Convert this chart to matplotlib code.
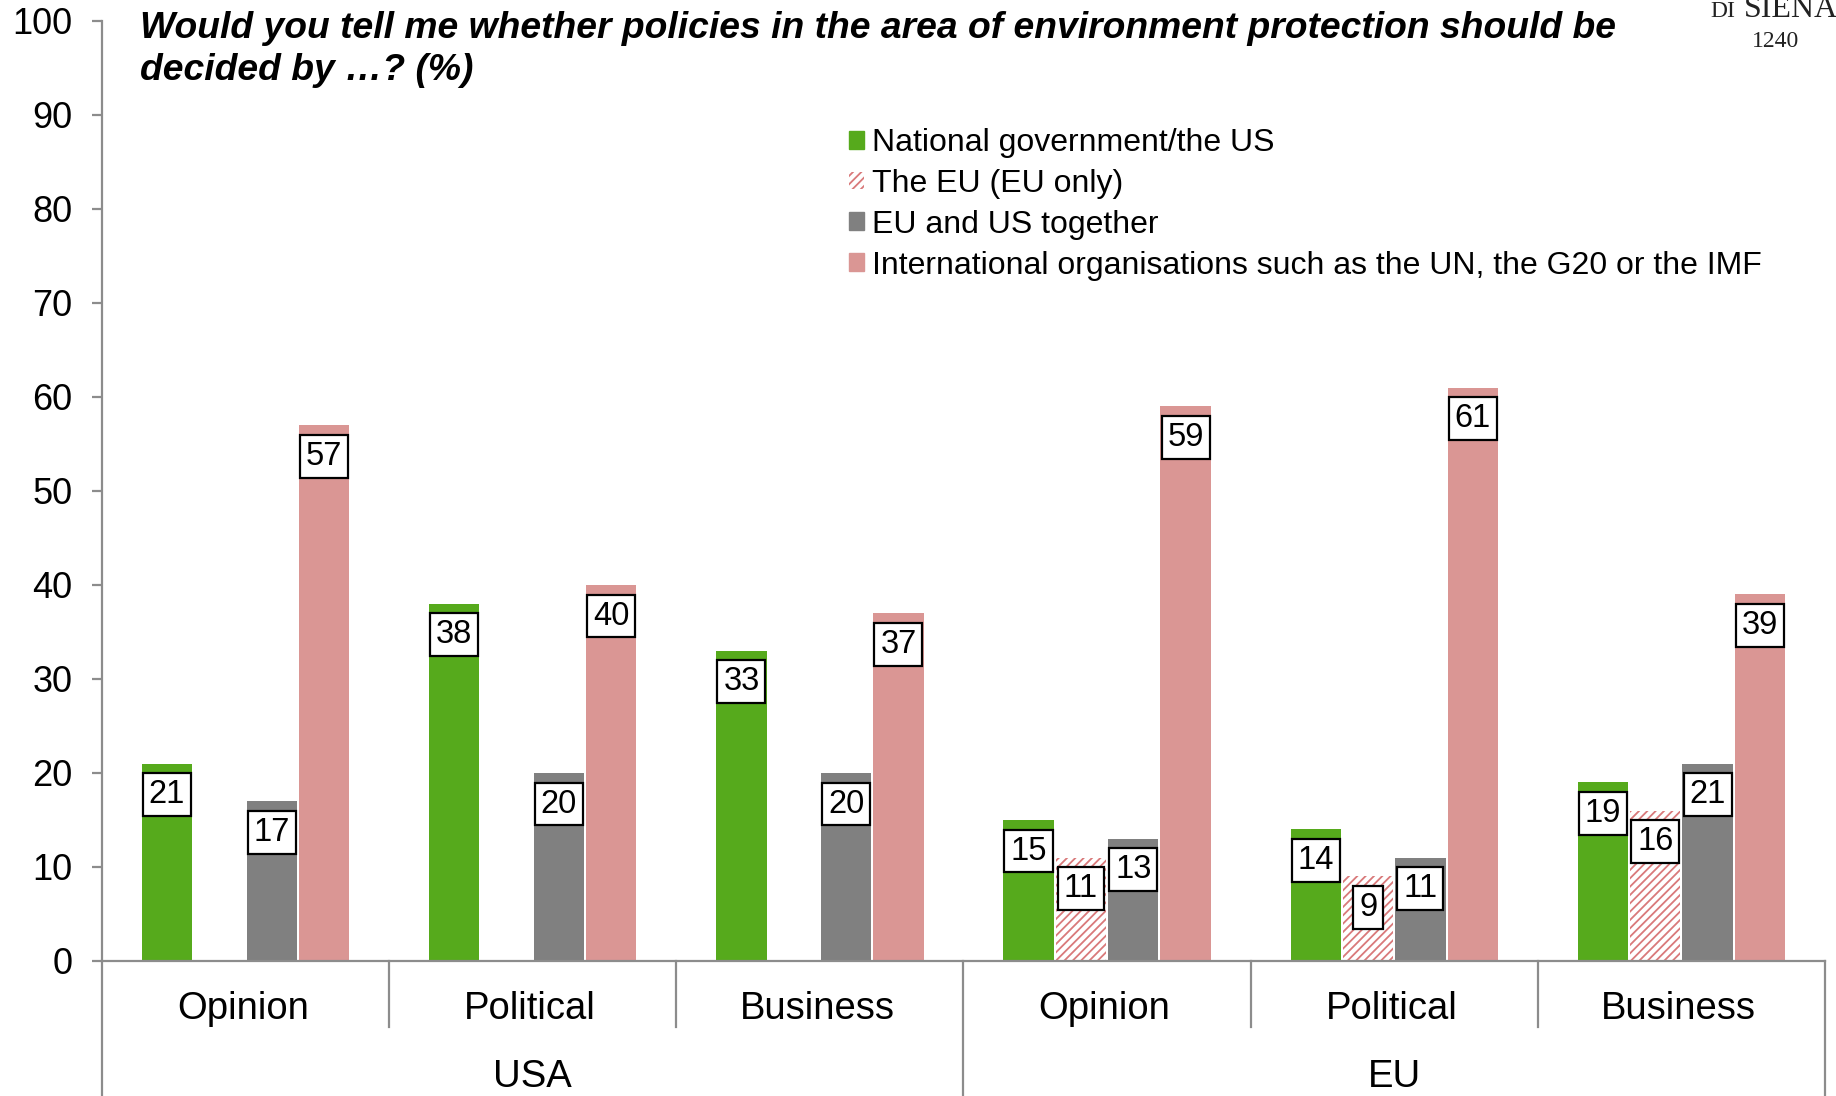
import matplotlib
matplotlib.use("Agg")
import matplotlib.pyplot as plt
from matplotlib.patches import Patch

# Survey answers (%) per respondent group
categories = ["Opinion", "Political", "Business", "Opinion", "Political", "Business"]
groups = ["USA", "EU"]
series_names = [
    "National government/the US",
    "The EU (EU only)",
    "EU and US together",
    "International organisations such as the UN, the G20 or the IMF",
]
national = [21, 38, 33, 15, 14, 19]
eu_only = [None, None, None, 11, 9, 16]
eu_us = [17, 20, 20, 13, 11, 21]
international = [57, 40, 37, 59, 61, 39]
y_ticks = list(range(0, 101, 10))
title = ("Would you tell me whether policies in the area of environment protection should be\n"
         "decided by …? (%)")

GREEN = "#56AA1C"
HATCH = "#D9797A"
GRAY = "#808080"
PINK = "#DA9694"
AXIS = "#8C8C8C"

plt.rcParams["font.family"] = ["Liberation Sans", "DejaVu Sans"]
plt.rcParams["hatch.linewidth"] = 1.3

W, H = 1836, 1096
fig = plt.figure(figsize=(W / 100, H / 100), dpi=100)
ax = fig.add_axes([102 / W, 1 - 961 / H, (1825 - 102) / W, (961 - 21) / H])

n_cat = len(categories)
step = 0.1823
width = 0.175
series = [national, eu_only, eu_us, international]
styles = [
    dict(color=GREEN),
    dict(facecolor="white", edgecolor=HATCH, hatch="////", linewidth=0),
    dict(color=GRAY),
    dict(color=PINK),
]

for j, (vals, st) in enumerate(zip(series, styles)):
    for i, v in enumerate(vals):
        if v is None:
            continue
        x = i + 0.5 + (j - 1.5) * step
        ax.bar(x, v, width=width, zorder=2, **st)
        ax.text(x, v - 3.3, str(v), ha="center", va="center", fontsize=23.5,
                zorder=5,
                bbox=dict(boxstyle="square,pad=0.18", fc="white", ec="black", lw=1.6))

ax.set_xlim(0, n_cat)
ax.set_ylim(0, 100)
ax.set_yticks(y_ticks)
ax.set_xticks([])
for s in ("top", "right"):
    ax.spines[s].set_visible(False)
for s in ("left", "bottom"):
    ax.spines[s].set_color(AXIS)
    ax.spines[s].set_linewidth(1.6)
ax.tick_params(axis="y", direction="out", length=7.2, width=1.6, color=AXIS,
               labelsize=26, pad=14)

# category separators and group separators below the axis
for b in range(n_cat + 1):
    depth = -14.5 if b % 3 == 0 else -7.0
    ax.plot([b, b], [0, depth], color=AXIS, lw=1.6, clip_on=False, zorder=1)

for i, c in enumerate(categories):
    ax.text(i + 0.49, -5.1, c, ha="center", va="center", fontsize=27.5)
for g, name in enumerate(groups):
    ax.text(g * 3 + 1.5, -12.3, name, ha="center", va="center", fontsize=27.5)

fig.text(140 / W, 1 - 11 / H, title, ha="left", va="top", fontsize=26.8,
         fontweight="bold", fontstyle="italic", linespacing=1.25)

handles = [Patch(**styles[0]), Patch(facecolor="white", edgecolor=HATCH, hatch="////", linewidth=0),
           Patch(**styles[2]), Patch(**styles[3])]
fig.legend(handles, series_names, loc="upper left",
           bbox_to_anchor=(849 / W, 1 - 128 / H), frameon=False, fontsize=23,
           handlelength=0.48, handleheight=0.48, handletextpad=0.25,
           labelspacing=0.34, borderpad=0, borderaxespad=0)

# crest text in the top-right corner
serif = ["Liberation Serif", "DejaVu Serif"]
fig.text(1710 / W, 1 - 17 / H, "DI", family=serif, fontsize=17,
         ha="left", va="baseline", color="#222222")
fig.text(1744 / W, 1 - 17 / H, "SIENA", family=serif, fontsize=23,
         ha="left", va="baseline", color="#222222")
fig.text(1776 / W, 1 - 47 / H, "1240", family=serif, fontsize=17,
         ha="center", va="baseline", color="#222222")

fig.savefig("out.png", dpi=100)
